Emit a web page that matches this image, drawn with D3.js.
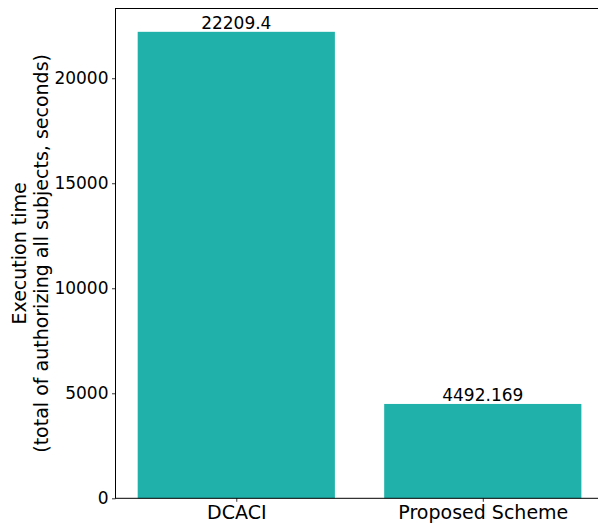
<!DOCTYPE html>
<html><head><meta charset="utf-8">
<script src="https://cdn.jsdelivr.net/npm/d3@7"></script>
<style>body{margin:0;background:#fff}svg{display:block;font-family:"DejaVu Sans",sans-serif}</style>
</head><body>
<svg id="c" width="598" height="524"></svg>
<script>
const categories = ["DCACI", "Proposed Scheme"];
const values = [22209.4, 4492.169];
const valueLabels = ["22209.4", "4492.169"];
const yTicks = [0, 5000, 10000, 15000, 20000];

const svg = d3.select("#c");
const mLeft = 115.5, mTop = 8.5, mBottom = 498.3;
const unit = 246.5;
const x = d3.scaleLinear().domain([-0.49, 1.49]).range([mLeft, mLeft + 1.98 * unit]);
const y = d3.scaleLinear().domain([0, d3.max(values) * 1.05]).range([mBottom, mTop]);
const mRight = x(1.49);

const bw = 0.8;
svg.append("g").selectAll("rect").data(values).join("rect")
  .attr("x", (d, i) => x(i - bw / 2))
  .attr("width", (d, i) => x(i + bw / 2) - x(i - bw / 2))
  .attr("y", d => y(d))
  .attr("height", d => y(0) - y(d))
  .attr("fill", "#20b2aa");

svg.append("g").selectAll("text").data(values).join("text")
  .attr("x", (d, i) => x(i))
  .attr("y", d => y(d) - 3)
  .attr("text-anchor", "middle")
  .attr("font-size", 17)
  .attr("fill", "#000")
  .text((d, i) => valueLabels[i]);

// y axis
const ya = svg.append("g").attr("transform", `translate(${mLeft},0)`)
  .call(d3.axisLeft(y).tickValues(yTicks).tickFormat(d3.format("d")).tickSize(3.5).tickPadding(3.5));
ya.select(".domain").remove();
ya.selectAll("line").attr("stroke", "#000").attr("stroke-width", 0.8);
ya.selectAll("text").attr("font-size", 17).attr("font-family", "DejaVu Sans").attr("fill", "#000");

// x axis
const xa = svg.append("g").attr("transform", `translate(0,${mBottom})`)
  .call(d3.axisBottom(x).tickValues([0, 1]).tickFormat((d, i) => categories[i]).tickSize(3.5).tickPadding(4));
xa.select(".domain").remove();
xa.selectAll("line").attr("stroke", "#000").attr("stroke-width", 0.8);
xa.selectAll("text").attr("font-size", 19).attr("font-family", "DejaVu Sans").attr("fill", "#000");

// spines
svg.append("rect").attr("x", mLeft).attr("y", mTop).attr("width", mRight - mLeft).attr("height", mBottom - mTop)
  .attr("fill", "none").attr("stroke", "#000").attr("stroke-width", 1);

// y label
const lab = svg.append("text")
  .attr("transform", `translate(0,${(mTop + mBottom) / 2}) rotate(-90)`)
  .attr("text-anchor", "middle").attr("font-size", 19).attr("fill", "#000");
lab.append("tspan").attr("x", 0).attr("y", 26).text("Execution time");
lab.append("tspan").attr("x", 0).attr("y", 48).text("(total of authorizing all subjects, seconds)");
</script>
</body></html>
